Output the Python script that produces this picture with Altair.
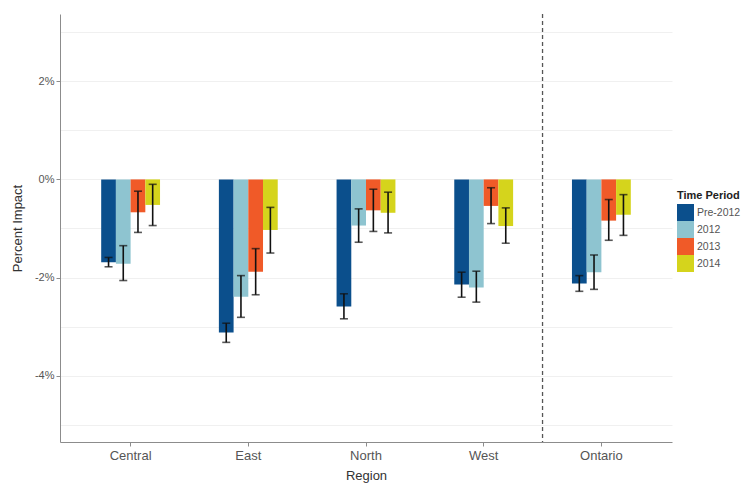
import altair as alt
import pandas as pd

regions = ["Central", "East", "North", "West", "Ontario"]
periods = ["Pre-2012", "2012", "2013", "2014"]
colors = ["#0b4f8c", "#8ec4d0", "#f05a28", "#d5d41c"]

impact = {
    "Pre-2012": [-1.69, -3.12, -2.59, -2.14, -2.12],
    "2012": [-1.72, -2.39, -0.94, -2.20, -1.89],
    "2013": [-0.67, -1.88, -0.63, -0.54, -0.84],
    "2014": [-0.52, -1.03, -0.68, -0.95, -0.72],
}
lower = {
    "Pre-2012": [-1.78, -3.32, -2.84, -2.40, -2.28],
    "2012": [-2.06, -2.81, -1.28, -2.50, -2.24],
    "2013": [-1.08, -2.35, -1.06, -0.90, -1.24],
    "2014": [-0.94, -1.50, -1.09, -1.30, -1.14],
}
upper = {
    "Pre-2012": [-1.59, -2.93, -2.33, -1.89, -1.96],
    "2012": [-1.35, -1.96, -0.60, -1.87, -1.54],
    "2013": [-0.24, -1.41, -0.20, -0.17, -0.41],
    "2014": [-0.10, -0.57, -0.26, -0.58, -0.31],
}
y_ticks = [-5, -4, -3, -2, -1, 0, 1, 2, 3]
divider_region = ["Ontario"]

rows = []
for p in periods:
    for i, r in enumerate(regions):
        rows.append({"Region": r, "Time Period": p, "value": impact[p][i],
                     "lo": lower[p][i], "hi": upper[p][i]})
df = pd.DataFrame(rows)
div_df = pd.DataFrame({"Region": divider_region})

W, H = 612, 428
P_IN, P_OUT = 0.5, 0.35
step = W / (len(regions) - P_IN + 2 * P_OUT)
grey = "#555555"

x_enc = alt.X("Region:N", sort=regions,
              scale=alt.Scale(domain=regions, paddingInner=P_IN, paddingOuter=P_OUT),
              axis=alt.Axis(title="Region", labelAngle=0, labelFontSize=13,
                            labelColor=grey, titleFontSize=13, titleColor="#333333",
                            titleFontWeight="normal", titlePadding=7,
                            domainColor="#8c8c8c", tickColor="#8c8c8c",
                            tickSize=4, labelPadding=3, grid=False))
xoff = alt.XOffset("Time Period:N", sort=periods,
                   scale=alt.Scale(domain=periods, paddingInner=0, paddingOuter=0))
y_scale = alt.Scale(domain=[-5.35, 3.37], nice=False, zero=False)
y_axis = alt.Axis(title="Percent Impact", values=y_ticks,
                  labelExpr="datum.value % 2 == 0 ? datum.value + '%' : ''",
                  labelFontSize=11, labelColor=grey, titleFontSize=13,
                  titleColor="#333333", titleFontWeight="normal", titlePadding=10,
                  domainColor="#8c8c8c", tickSize=4, labelPadding=2,
                  tickColor={"condition": {"test": "datum.value % 2 != 0", "value": "transparent"},
                             "value": "#8c8c8c"},
                  grid=True, gridColor="#f0f0f0", gridWidth=1)

base = alt.Chart(df)

bars = base.mark_bar().encode(
    x=x_enc,
    xOffset=xoff,
    y=alt.Y("value:Q", scale=y_scale, axis=y_axis),
    y2=alt.datum(0),
    color=alt.Color("Time Period:N", sort=periods,
                    scale=alt.Scale(domain=periods, range=colors),
                    legend=alt.Legend(title="Time Period", orient="none",
                                      legendX=617, legendY=176,
                                      symbolType="square", symbolSize=289,
                                      symbolStrokeWidth=0, rowPadding=0,
                                      labelFontSize=10.5, labelColor=grey,
                                      titleFontSize=11, titleFontWeight="bold",
                                      titleColor="#222222", titlePadding=3,
                                      labelOffset=3)),
)

err = base.mark_rule(color="#111111", strokeWidth=1.6).encode(
    x=alt.X("Region:N", sort=regions),
    xOffset=xoff,
    y=alt.Y("lo:Q"),
    y2="hi:Q",
)
cap_lo = base.mark_tick(color="#111111", thickness=1.6, size=8, orient="horizontal").encode(
    x=alt.X("Region:N", sort=regions), xOffset=xoff, y="lo:Q")
cap_hi = base.mark_tick(color="#111111", thickness=1.6, size=8, orient="horizontal").encode(
    x=alt.X("Region:N", sort=regions), xOffset=xoff, y="hi:Q")

divider = alt.Chart(div_df).mark_rule(
    color="#555555", strokeDash=[4, 3], strokeWidth=1.3, xOffset=-step * P_IN / 2
).encode(
    x=alt.X("Region:N", sort=regions, bandPosition=0),
)

chart = alt.layer(bars, err, cap_lo, cap_hi, divider).properties(
    width=W, height=H,
    autosize=alt.AutoSizeParams(type="none"),
    padding={"left": 52, "top": 6, "right": 73, "bottom": 41},
).configure(font="Liberation Sans").configure_view(stroke="transparent", strokeWidth=0)

chart.save("out.html", embed_options={"renderer": "svg", "actions": False})
